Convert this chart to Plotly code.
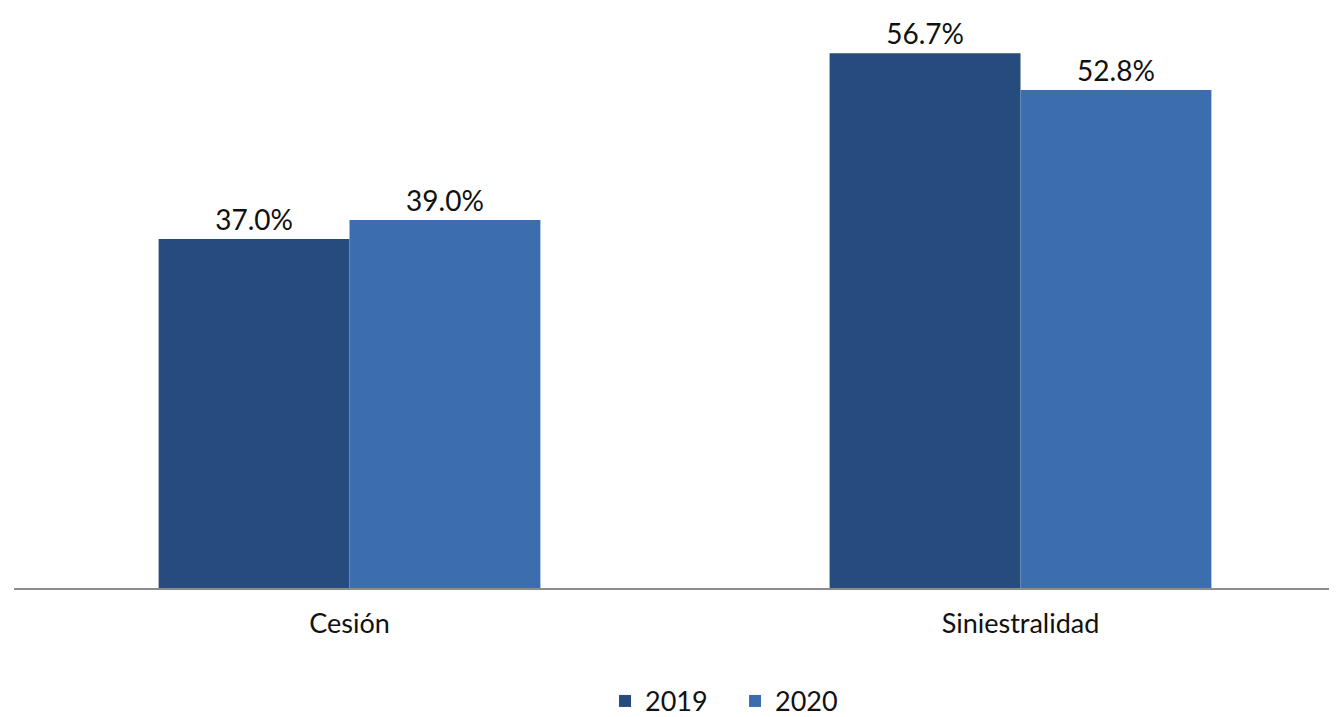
import plotly.graph_objects as go

# 数据
categories = ["Cesión", "Siniestralidad"]
values_2019 = [37.0, 56.7]
values_2020 = [39.0, 52.8]
series_names = ["2019", "2020"]
colors = ["#264b7d", "#3c6daf"]

fig = go.Figure()
for name, vals, color in zip(series_names, [values_2019, values_2020], colors):
    fig.add_trace(go.Bar(
        x=categories,
        y=vals,
        name=name,
        marker=dict(color=color, line=dict(width=0)),
        text=[f"{v:.1f}%" for v in vals],
        textposition="outside",
        textfont=dict(size=28, color="#111111", family="Lato"),
        cliponaxis=False,
    ))

# 页面 body 有 8px 默认边距, 尺寸相应缩小
fig.update_layout(
    width=1329,
    height=709,
    margin=dict(l=6, r=0, t=14, b=129),
    paper_bgcolor="white",
    plot_bgcolor="white",
    barmode="group",
    bargap=0.431,
    bargroupgap=0,
    font=dict(family="Lato", color="#111111"),
    xaxis=dict(
        range=[-0.5, 1.4717],
        showline=True,
        linecolor="#8c8c8c",
        linewidth=2,
        ticks="",
        tickfont=dict(size=27),
        ticklabelstandoff=11,
        showgrid=False,
    ),
    yaxis=dict(
        range=[0, 60],
        visible=False,
        showgrid=False,
        zeroline=False,
    ),
    legend=dict(
        orientation="h",
        x=0.545,
        xanchor="center",
        yref="container",
        y=0.022,
        yanchor="middle",
        font=dict(size=27),
        entrywidth=85,
        entrywidthmode="pixels",
        itemwidth=30,
    ),
)

fig.write_html("out.html")
